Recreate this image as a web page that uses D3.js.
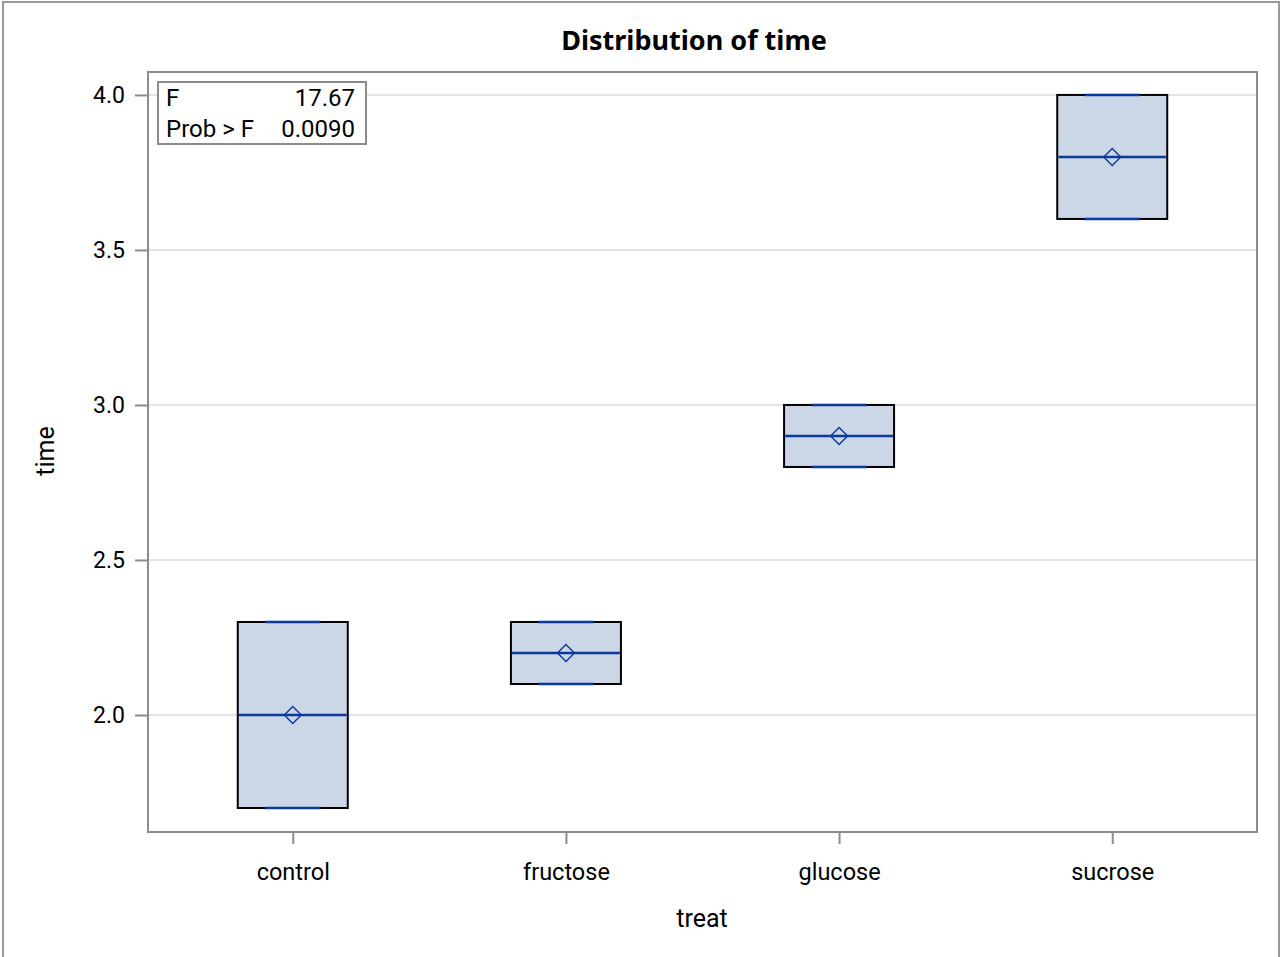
<!DOCTYPE html>
<html><head><meta charset="utf-8">
<script src="https://cdn.jsdelivr.net/npm/d3@7"></script>
<style>body{margin:0;background:#fff}svg{display:block}text{font-family:Roboto,sans-serif}</style>
</head><body>
<svg id="c" width="1281" height="957"></svg>
<script>
const categories = ["control","fructose","glucose","sucrose"];
const minVals = [1.7, 2.1, 2.8, 3.6];
const q1Vals = [1.7, 2.1, 2.8, 3.6];
const medians = [2.0, 2.2, 2.9, 3.8];
const q3Vals = [2.3, 2.3, 3.0, 4.0];
const maxVals = [2.3, 2.3, 3.0, 4.0];
const means = [2.0, 2.2, 2.9, 3.8];
const yTicks = [2.0, 2.5, 3.0, 3.5, 4.0];
const statLabels = ["F", "Prob > F"];
const statValues = ["17.67", "0.0090"];

const FONT = "Roboto, sans-serif";
const svg = d3.select("#c");
const L = 148, T = 72, R = 1257, B = 832;
const x = d3.scalePoint().domain(categories).range([L, R]).padding(0.53);
const y = d3.scaleLinear().domain([1.6226, 4.074]).range([B, T]);

svg.append("rect").attr("x",3).attr("y",2).attr("width",1276).attr("height",970)
  .attr("fill","none").attr("stroke","#9a9a9a").attr("stroke-width",2);

// gridlines
svg.append("g").selectAll("line").data(yTicks).join("line")
  .attr("x1",L).attr("x2",R).attr("y1",d=>y(d)).attr("y2",d=>y(d))
  .attr("stroke","#e4e4e4").attr("stroke-width",2);

// y axis
const ya = svg.append("g").attr("transform",`translate(${L},0)`)
  .call(d3.axisLeft(y).tickValues(yTicks).tickFormat(d3.format(".1f")).tickSize(13).tickPadding(10));
ya.select(".domain").remove();
ya.attr("font-family",FONT).attr("font-size",23);
ya.selectAll("line").attr("stroke","#8c8c8c").attr("stroke-width",2);
ya.selectAll("text").attr("fill","#000");

// x axis
const xa = svg.append("g").attr("transform",`translate(0,${B})`)
  .call(d3.axisBottom(x).tickSize(12).tickPadding(19));
xa.select(".domain").remove();
xa.attr("font-family",FONT).attr("font-size",23.5);
xa.selectAll("line").attr("stroke","#8c8c8c").attr("stroke-width",2);
xa.selectAll("text").attr("fill","#000");

// boxes
const bw = 110;
const data = categories.map((c,i)=>({c, mn:minVals[i], q1:q1Vals[i], md:medians[i], q3:q3Vals[i], mx:maxVals[i], mean:means[i]}));
const g = svg.append("g").selectAll("g").data(data).join("g");
g.append("rect").attr("x",d=>x(d.c)-bw/2).attr("width",bw)
  .attr("y",d=>y(d.q3)).attr("height",d=>y(d.q1)-y(d.q3))
  .attr("fill","#cbd6e6").attr("stroke","#000").attr("stroke-width",2);
// whisker caps
g.append("line").attr("x1",d=>x(d.c)-bw/4).attr("x2",d=>x(d.c)+bw/4)
  .attr("y1",d=>y(d.mx)).attr("y2",d=>y(d.mx)).attr("stroke","#0b3a9c").attr("stroke-width",2.5);
g.append("line").attr("x1",d=>x(d.c)-bw/4).attr("x2",d=>x(d.c)+bw/4)
  .attr("y1",d=>y(d.mn)).attr("y2",d=>y(d.mn)).attr("stroke","#0b3a9c").attr("stroke-width",2.5);
// median
g.append("line").attr("x1",d=>x(d.c)-bw/2+1).attr("x2",d=>x(d.c)+bw/2-1)
  .attr("y1",d=>y(d.md)).attr("y2",d=>y(d.md)).attr("stroke","#0b3a9c").attr("stroke-width",2.5);
// mean diamond
g.append("path").attr("d",d=>{const cx=x(d.c), cy=y(d.mean), r=8.5; return `M${cx},${cy-r}L${cx+r},${cy}L${cx},${cy+r}L${cx-r},${cy}Z`;})
  .attr("fill","none").attr("stroke","#0b3a9c").attr("stroke-width",1.4);

// frame
svg.append("rect").attr("x",L).attr("y",T).attr("width",R-L).attr("height",B-T)
  .attr("fill","none").attr("stroke","#8c8c8c").attr("stroke-width",2);

// inset
svg.append("rect").attr("x",158).attr("y",82).attr("width",208).attr("height",62)
  .attr("fill","#fff").attr("stroke","#8c8c8c").attr("stroke-width",2);
statLabels.forEach((s,i)=>{
  svg.append("text").attr("x",166).attr("y",106+i*31).attr("font-size",24).text(s);
  svg.append("text").attr("x",355).attr("y",106+i*31).attr("font-size",24).attr("text-anchor","end").text(statValues[i]);
});

// titles
svg.append("text").attr("x",694).attr("y",50).attr("text-anchor","middle").attr("font-size",27)
  .attr("font-weight","bold").style("font-family","'Noto Sans',sans-serif").text("Distribution of time");
svg.append("text").attr("x",702).attr("y",927).attr("text-anchor","middle").attr("font-size",25).text("treat");
svg.append("text").attr("transform","translate(54,451) rotate(-90)").attr("text-anchor","middle").attr("font-size",25).text("time");
</script>
</body></html>
